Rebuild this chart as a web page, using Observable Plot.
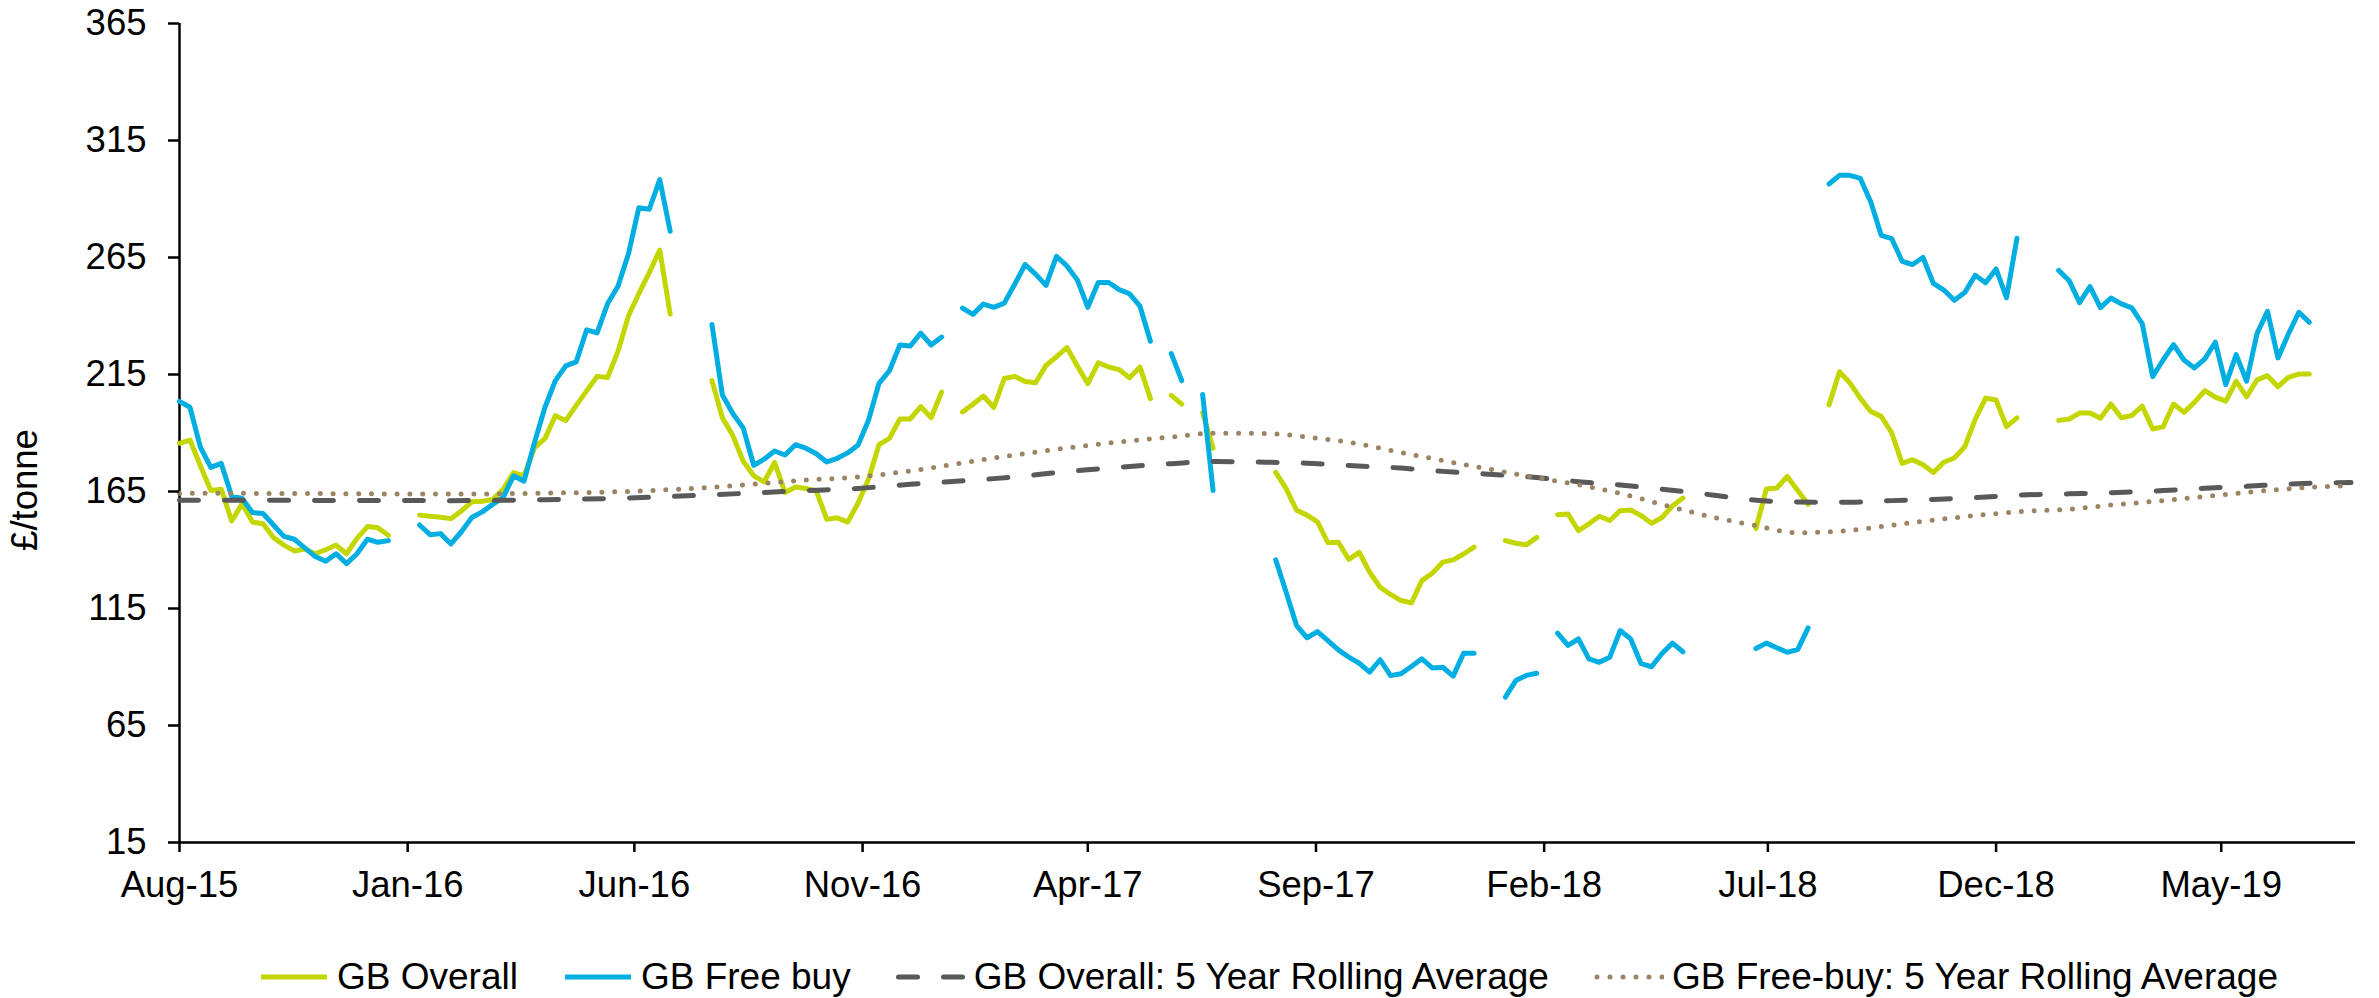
<!DOCTYPE html>
<html><head><meta charset="utf-8">
<script src="https://cdn.jsdelivr.net/npm/d3@7"></script>
<script src="https://cdn.jsdelivr.net/npm/@observablehq/plot@0.6"></script>
<style>
html,body{margin:0;padding:0;background:#fff;width:2379px;height:998px;overflow:hidden;font-family:"Liberation Sans",Arial,sans-serif;}
#chart{position:absolute;left:0;top:0;}
#legend{position:absolute;left:0;top:950px;height:54px;display:flex;align-items:center;padding-left:259px;gap:45px;font-size:37px;color:#000;}
.item{display:flex;align-items:center;gap:8px;white-space:nowrap;}
.item svg{display:block;}
</style></head><body>
<div id="chart"></div>
<div id="legend"></div>
<script>
// ---- data (weekly, first week = startDate) ----
const startDate = "2015-08-02";
const endDate = "2019-07-31";
const seriesNames = ["GB Overall", "GB Free buy", "GB Overall: 5 Year Rolling Average", "GB Free-buy: 5 Year Rolling Average"];

const overall = [
185.6,187,176,165.4,166,152.4,159.8,151.9,151.2,145.3,
142.1,139.6,140.4,138.4,140.1,142.1,138.4,145,150,149.5,
146.3,null,null,154.9,154.4,154,153.4,156.7,160.6,160.8,
161.6,165.9,173.1,171.7,183.6,187.6,197.4,195.3,201.8,208,
214.2,213.7,224.9,240,249.6,258.5,268.2,240.8,null,null,
null,212.4,196.5,188.9,177.9,171.7,169.1,177.4,164.6,166.9,
166.3,165.2,153.1,153.8,151.9,160.1,170.3,185,187.7,196,
196,201.3,196.5,207.5,null,199,202.3,205.8,200.9,213.3,
214.2,212,211.5,218.9,222.6,226.5,218.6,211.1,220,218.2,
217.1,213.6,218.2,204.7,null,206.1,202.3,null,198.7,183.5,
null,null,null,null,null,173.2,166.2,157,154.9,152,
143.1,143.3,136,139,130.5,124.1,121,118.4,117.4,126.9,
130.1,134.8,135.8,138.3,141.2,null,null,144,142.9,142.2,
145.4,null,155.1,155.4,148.3,151.2,154.4,152.6,156.8,157.1,
154.7,151.4,153.9,158.8,162.2,null,null,null,null,null,
null,149.2,166.1,166.5,171.4,165.4,159.5,null,202,216.2,
211.4,204.8,199.2,197.1,190.1,177,178.6,176.4,173.1,177.5,
179.3,184.1,195.8,204.9,204.1,192.7,196.5,null,null,null,
195.4,196,198.5,198.5,196.3,202.4,196.5,197.5,201.5,191.7,
192.7,202.4,198.8,203.1,208.1,205.3,203.6,212.1,205.5,212.7,
214.5,209.8,213.8,215.2,215.2];

const freeBuy = [
203.5,201,184,175.3,177,163,162,156,155.6,150.7,
145.8,144.6,140.9,137.2,135.2,138.4,134.2,138.4,144.6,143.3,
144,null,null,150.7,146.5,147,142.6,147.8,153.9,156.3,
159.5,162.5,171.7,169.4,185.9,200.9,212.4,218.7,220.4,234.1,
232.8,245.2,252.7,266.5,286.3,285.6,298.3,276.2,null,null,
null,236.4,206.2,198.3,192.1,176.2,178.8,182.3,180.6,185,
183.5,181.1,177.6,179.2,181.5,184.9,195.5,211.2,216.6,227.6,
227.2,232.7,227.6,231,null,243.4,240.7,245.1,243.7,245.5,
253.6,262,257.9,253.1,265.5,261.4,255.4,243.7,254.3,254.3,
251.3,249.5,244.2,229.2,null,223.9,212.4,null,206.5,165.4,
null,null,null,null,null,135.8,121.9,107.7,102.5,105.1,
101.3,97.3,94.2,91.6,87.8,93.1,86.3,87.1,90.2,93.5,
89.6,89.9,86.1,95.9,95.9,null,null,77.1,84.2,86.4,
87.3,null,104.5,99.2,102,93.5,92,94.2,105.6,102,
91.4,90.1,95.8,100.2,96.5,null,null,null,null,null,
null,97.9,100.2,98.2,96.3,97.4,106.7,null,296.4,300.1,
300.1,298.8,288.7,274.5,273.1,263.4,262,265,253.9,251.1,
246.7,250,257.4,254.2,260.1,247.8,273.2,null,null,null,
259.5,255.1,245.7,252.6,243.6,247.7,245.2,243.5,236.7,214.1,
221.2,227.8,221.2,217.8,221.7,228.8,210.7,223.5,212.1,232.6,
242,222.1,232.3,241.6,237.3];

// rolling averages, read at selected weeks
const avgWeeks = [0,13,26,35,42,51,60,65,70,78,87,95,99,104,108,112,117,121,125,130,134,138,142,147,151,155,160,164,168,172,177,181,185,190,194,198,202,208];
const overallAvg = [161.3,161.2,161.1,161.5,162.1,163.6,165.4,166.3,168.1,170.5,174.3,176.9,177.8,177.5,177.1,176.1,175,173.6,172.5,171,169.2,167.8,166,163.4,161.3,160.5,160.4,161.1,161.6,162.4,163.6,164,164.5,165.4,166.4,167.2,168.2,168.8];
const freeBuyAvg = [164.3,164.1,163.9,164.3,164.9,166.8,169.9,171.2,173.8,179.3,184.7,188.3,189.9,189.8,188.3,186,181.7,178.2,174.9,170.9,167.9,164.2,159.5,153.9,150.4,147.4,148.4,150.6,152.8,154.7,156.6,157.4,159.2,161.1,162.9,164.6,166.2,167.5];

const yTicks = [15,65,115,165,215,265,315,365];
const xTickDates = ["2015-08-02","2016-01-02","2016-06-02","2016-11-02","2017-04-02","2017-09-02","2018-02-02","2018-07-02","2018-12-02","2019-05-02"];
const xTickLabels = ["Aug-15","Jan-16","Jun-16","Nov-16","Apr-17","Sep-17","Feb-18","Jul-18","Dec-18","May-19"];

const colors = {overall:"#c4d600", freeBuy:"#00aee2", overallAvg:"#595959", freeBuyAvg:"#9b8464"};

// ---- build tables ----
const weekMs = 7*864e5;
const t0 = Date.parse(startDate);
const rows = overall.map((v,i)=>({date:new Date(t0+i*weekMs), overall: v==null?NaN:v, freeBuy: freeBuy[i]==null?NaN:freeBuy[i]}));
const avgRows = avgWeeks.map((w,i)=>({date:new Date(t0+w*weekMs), overallAvg: overallAvg[i], freeBuyAvg: freeBuyAvg[i]}));
const tickDates = xTickDates.map(d=>new Date(d));
const tickLab = new Map(tickDates.map((d,i)=>[+d, xTickLabels[i]]));

const FONT = '"Liberation Sans", Arial, sans-serif';
const chart = Plot.plot({
  width: 2379, height: 950,
  marginTop: 23, marginBottom: 108, marginLeft: 179, marginRight: 24,
  style: {fontFamily: FONT, fontSize: "36.5px", color: "#000", background: "#fff"},
  x: {type: "utc", domain: [new Date(startDate), new Date(endDate)], axis: null},
  y: {domain: [15, 365], axis: null},
  marks: [
    Plot.ruleY([yTicks[0]], {stroke:"#000", strokeWidth:2.5}),
    Plot.ruleX([tickDates[0]], {stroke:"#000", strokeWidth:2.5}),
    Plot.line(rows, {x:"date", y:"overall", stroke:colors.overall, strokeWidth:5, strokeLinejoin:"round", strokeLinecap:"round"}),
    Plot.line(rows, {x:"date", y:"freeBuy", stroke:colors.freeBuy, strokeWidth:5, strokeLinejoin:"round", strokeLinecap:"round"}),
    Plot.line(avgRows, {x:"date", y:"overallAvg", stroke:colors.overallAvg, strokeWidth:5, strokeDasharray:"19,26", strokeLinecap:"round", curve:"monotone-x"}),
    Plot.line(avgRows, {x:"date", y:"freeBuyAvg", stroke:colors.freeBuyAvg, strokeWidth:5, strokeDasharray:"0,12.8", strokeLinecap:"round", curve:"monotone-x"}),
    Plot.axisY({ticks: yTicks, tickSize: 11, tickPadding: 22, strokeWidth: 2.5, fontSize: 36.5, label: null, stroke:"#000", fill:"#000"}),
    Plot.axisX({ticks: tickDates, tickFormat: d => tickLab.get(+d), tickSize: 10, tickPadding: 19, strokeWidth: 2.5, fontSize: 36.5, label: null, stroke:"#000", fill:"#000"}),
    Plot.text(["£/tonne"], {text: d=>d, frameAnchor: "left", textAnchor: "middle", rotate: -90, dx: -154.5, dy: 57, fontSize: 36.5, fill: "#000"})
  ]
});
document.getElementById("chart").appendChild(chart);

// ---- legend ----
const swatch = {
  [seriesNames[0]]: `<line x1="2" x2="68" y1="10" y2="10" stroke="${colors.overall}" stroke-width="5"/>`,
  [seriesNames[1]]: `<line x1="2" x2="68" y1="10" y2="10" stroke="${colors.freeBuy}" stroke-width="5"/>`,
  [seriesNames[2]]: `<line x1="2.5" x2="70" y1="10" y2="10" stroke="${colors.overallAvg}" stroke-width="5" stroke-dasharray="19,26" stroke-linecap="round"/>`,
  [seriesNames[3]]: `<line x1="3" x2="70" y1="10" y2="10" stroke="${colors.freeBuyAvg}" stroke-width="5" stroke-dasharray="0,13" stroke-linecap="round"/>`
};
const leg = document.getElementById("legend");
seriesNames.forEach(n=>{
  const it = document.createElement("div"); it.className = "item";
  it.innerHTML = `<svg width="70" height="20">${swatch[n]}</svg><span>${n}</span>`;
  leg.appendChild(it);
});
</script>
</body></html>
